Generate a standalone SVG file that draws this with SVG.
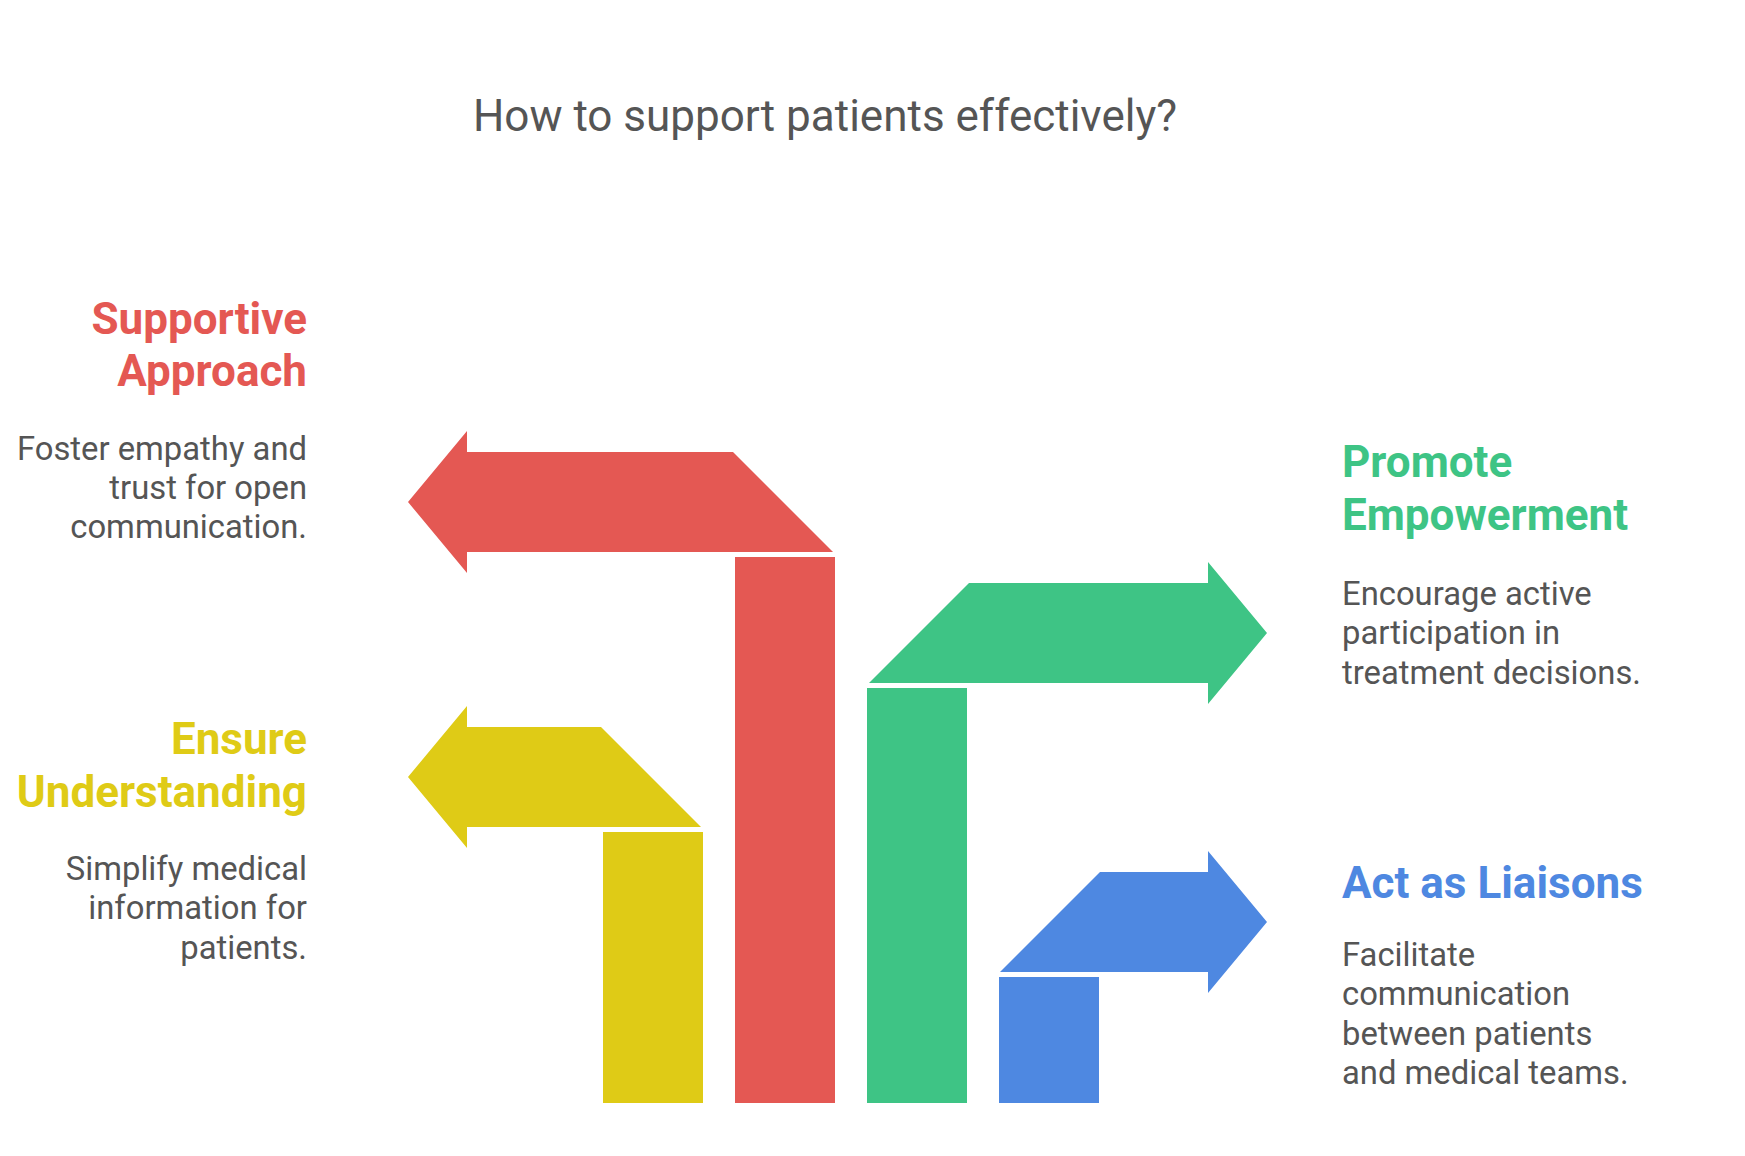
<svg xmlns="http://www.w3.org/2000/svg" width="1745" height="1156" viewBox="0 0 1745 1156">
  <style>
    .title { font-family: Roboto, "Liberation Sans", sans-serif; font-size: 44px; fill: #555555; }
    .head { font-family: Roboto, "Liberation Sans", sans-serif; font-size: 44px; font-weight: bold; }
    .desc { font-family: Roboto, "Liberation Sans", sans-serif; font-size: 32.8px; fill: #555555; }
    .left { text-anchor: end; }
    .red { fill: #E45853; }
    .yellow { fill: #DFCB16; }
    .green { fill: #3EC485; }
    .blue { fill: #4E88E1; }
  </style>
  <rect width="1745" height="1156" fill="#ffffff"/>
  <text class="title" x="825" y="131" text-anchor="middle">How to support patients effectively?</text>

  <g id="connectors">
    <!-- Red: Supportive Approach -->
    <path class="red" d="M408,502 L467,431 L467,452 L733,452 L833,552 L467,552 L467,573 Z"/>
    <rect class="red" x="735" y="557" width="100" height="546"/>
    <!-- Yellow: Ensure Understanding -->
    <path class="yellow" d="M408,777 L467,706 L467,727 L601,727 L701,827 L467,827 L467,848 Z"/>
    <rect class="yellow" x="603" y="832" width="100" height="271"/>
    <!-- Green: Promote Empowerment -->
    <path class="green" d="M1267,633 L1208,562 L1208,583 L969,583 L869,683 L1208,683 L1208,704 Z"/>
    <rect class="green" x="867" y="688" width="100" height="415"/>
    <!-- Blue: Act as Liaisons -->
    <path class="blue" d="M1267,922 L1208,851 L1208,872 L1100,872 L1000,972 L1208,972 L1208,993 Z"/>
    <rect class="blue" x="999" y="977" width="100" height="126"/>
  </g>

  <g id="node-supportive">
    <text class="head red left" x="307" y="334">Supportive</text>
    <text class="head red left" x="307" y="386">Approach</text>
    <text class="desc left" x="307" y="460">Foster empathy and</text>
    <text class="desc left" x="307" y="499">trust for open</text>
    <text class="desc left" x="307" y="538">communication.</text>
  </g>

  <g id="node-ensure">
    <text class="head yellow left" x="307" y="754">Ensure</text>
    <text class="head yellow left" x="307" y="807">Understanding</text>
    <text class="desc left" x="307" y="880">Simplify medical</text>
    <text class="desc left" x="307" y="919">information for</text>
    <text class="desc left" x="307" y="959">patients.</text>
  </g>

  <g id="node-promote">
    <text class="head green" x="1342" y="477">Promote</text>
    <text class="head green" x="1342" y="530">Empowerment</text>
    <text class="desc" x="1342" y="605">Encourage active</text>
    <text class="desc" x="1342" y="644">participation in</text>
    <text class="desc" x="1342" y="684">treatment decisions.</text>
  </g>

  <g id="node-liaisons">
    <text class="head blue" x="1342" y="898">Act as Liaisons</text>
    <text class="desc" x="1342" y="966">Facilitate</text>
    <text class="desc" x="1342" y="1005">communication</text>
    <text class="desc" x="1342" y="1045">between patients</text>
    <text class="desc" x="1342" y="1084">and medical teams.</text>
  </g>
</svg>
